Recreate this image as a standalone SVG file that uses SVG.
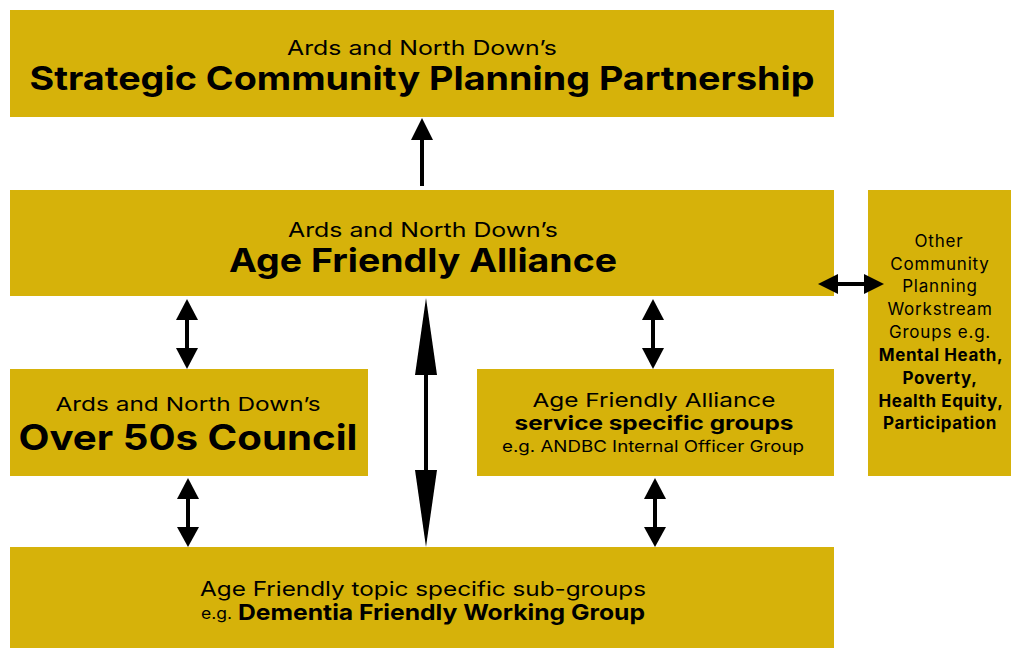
<svg xmlns="http://www.w3.org/2000/svg" width="1011" height="648" viewBox="0 0 1011 648">
<style>
.box{fill:#d6b20a}
text{font-family:Inter,"Noto Sans","Liberation Sans",sans-serif;fill:#000;text-anchor:middle}
text.s{text-anchor:start}
.b{font-weight:700}
.o{font-size:17px;letter-spacing:0.8px}
.ob{font-size:17px;font-weight:700;letter-spacing:0.6px}
.ln{stroke:#000;stroke-width:4;fill:none}
.hd{fill:#000}
</style>
<rect width="1011" height="648" fill="#fff"/>
<g id="node-scpp">
<rect class="box" x="10" y="10" width="824" height="107"/>
<text x="422" y="55" font-size="20" textLength="270" lengthAdjust="spacingAndGlyphs">Ards and North Down’s</text>
<text class="b" x="422" y="90" font-size="33" textLength="785" lengthAdjust="spacingAndGlyphs">Strategic Community Planning Partnership</text>
</g>
<g id="node-afa">
<rect class="box" x="10" y="190" width="824" height="106"/>
<text x="423" y="237" font-size="20" textLength="270" lengthAdjust="spacingAndGlyphs">Ards and North Down’s</text>
<text class="b" x="423" y="272" font-size="33" textLength="388" lengthAdjust="spacingAndGlyphs">Age Friendly Alliance</text>
</g>
<g id="node-other">
<rect class="box" x="868" y="190" width="143" height="286"/>
<text class="o" x="939" y="247">Other</text>
<text class="o" x="940" y="270">Community</text>
<text class="o" x="940" y="292">Planning</text>
<text class="o" x="940" y="315">Workstream</text>
<text class="o" x="940" y="338">Groups e.g.</text>
<text class="ob" x="941" y="361">Mental Heath,</text>
<text class="ob" x="940" y="384">Poverty,</text>
<text class="ob" x="941" y="407">Health Equity,</text>
<text class="ob" x="940" y="429">Participation</text>
</g>
<g id="node-over50">
<rect class="box" x="10" y="369" width="358" height="107"/>
<text x="188" y="411" font-size="19" textLength="265" lengthAdjust="spacingAndGlyphs">Ards and North Down’s</text>
<text class="b" x="188" y="450" font-size="35" textLength="339" lengthAdjust="spacingAndGlyphs">Over 50s Council</text>
</g>
<g id="node-service">
<rect class="box" x="477" y="369" width="357" height="107"/>
<text x="654" y="407" font-size="19" textLength="243" lengthAdjust="spacingAndGlyphs">Age Friendly Alliance</text>
<text class="b" x="654" y="430" font-size="20" textLength="279" lengthAdjust="spacingAndGlyphs">service specific groups</text>
<text x="653" y="452" font-size="16" textLength="302" lengthAdjust="spacingAndGlyphs">e.g. ANDBC Internal Officer Group</text>
</g>
<g id="node-topic">
<rect class="box" x="10" y="547" width="824" height="101"/>
<text x="423" y="596" font-size="20" textLength="446" lengthAdjust="spacingAndGlyphs">Age Friendly topic specific sub-groups</text>
<text class="s" x="201" y="619" font-size="16" textLength="31" lengthAdjust="spacingAndGlyphs">e.g.</text>
<text class="s b" x="238" y="620" font-size="22" textLength="407" lengthAdjust="spacingAndGlyphs">Dementia Friendly Working Group</text>
</g>
<g id="connectors">
<line class="ln" x1="422" y1="186" x2="422" y2="136"/>
<polygon class="hd" points="422,118 411,140 433,140"/>
<line class="ln" x1="836" y1="284" x2="866" y2="284"/>
<polygon class="hd" points="818,284 838,274 838,294"/>
<polygon class="hd" points="884,284 864,274 864,294"/>
<line class="ln" x1="187" y1="315" x2="187" y2="352"/>
<polygon class="hd" points="187,299 176,320 198,320"/>
<polygon class="hd" points="187,369 176,348 198,348"/>
<line class="ln" x1="188" y1="495" x2="188" y2="530"/>
<polygon class="hd" points="188,478 177,499 199,499"/>
<polygon class="hd" points="188,547 177,527 199,527"/>
<line class="ln" x1="426" y1="370" x2="426" y2="475"/>
<polygon class="hd" points="426,298 415,375 437,375"/>
<polygon class="hd" points="426,547 415,470 437,470"/>
<line class="ln" x1="653" y1="315" x2="653" y2="352"/>
<polygon class="hd" points="653,299 642,320 664,320"/>
<polygon class="hd" points="653,369 642,348 664,348"/>
<line class="ln" x1="655" y1="495" x2="655" y2="530"/>
<polygon class="hd" points="655,478 644,499 666,499"/>
<polygon class="hd" points="655,547 644,527 666,527"/>
</g>
</svg>
